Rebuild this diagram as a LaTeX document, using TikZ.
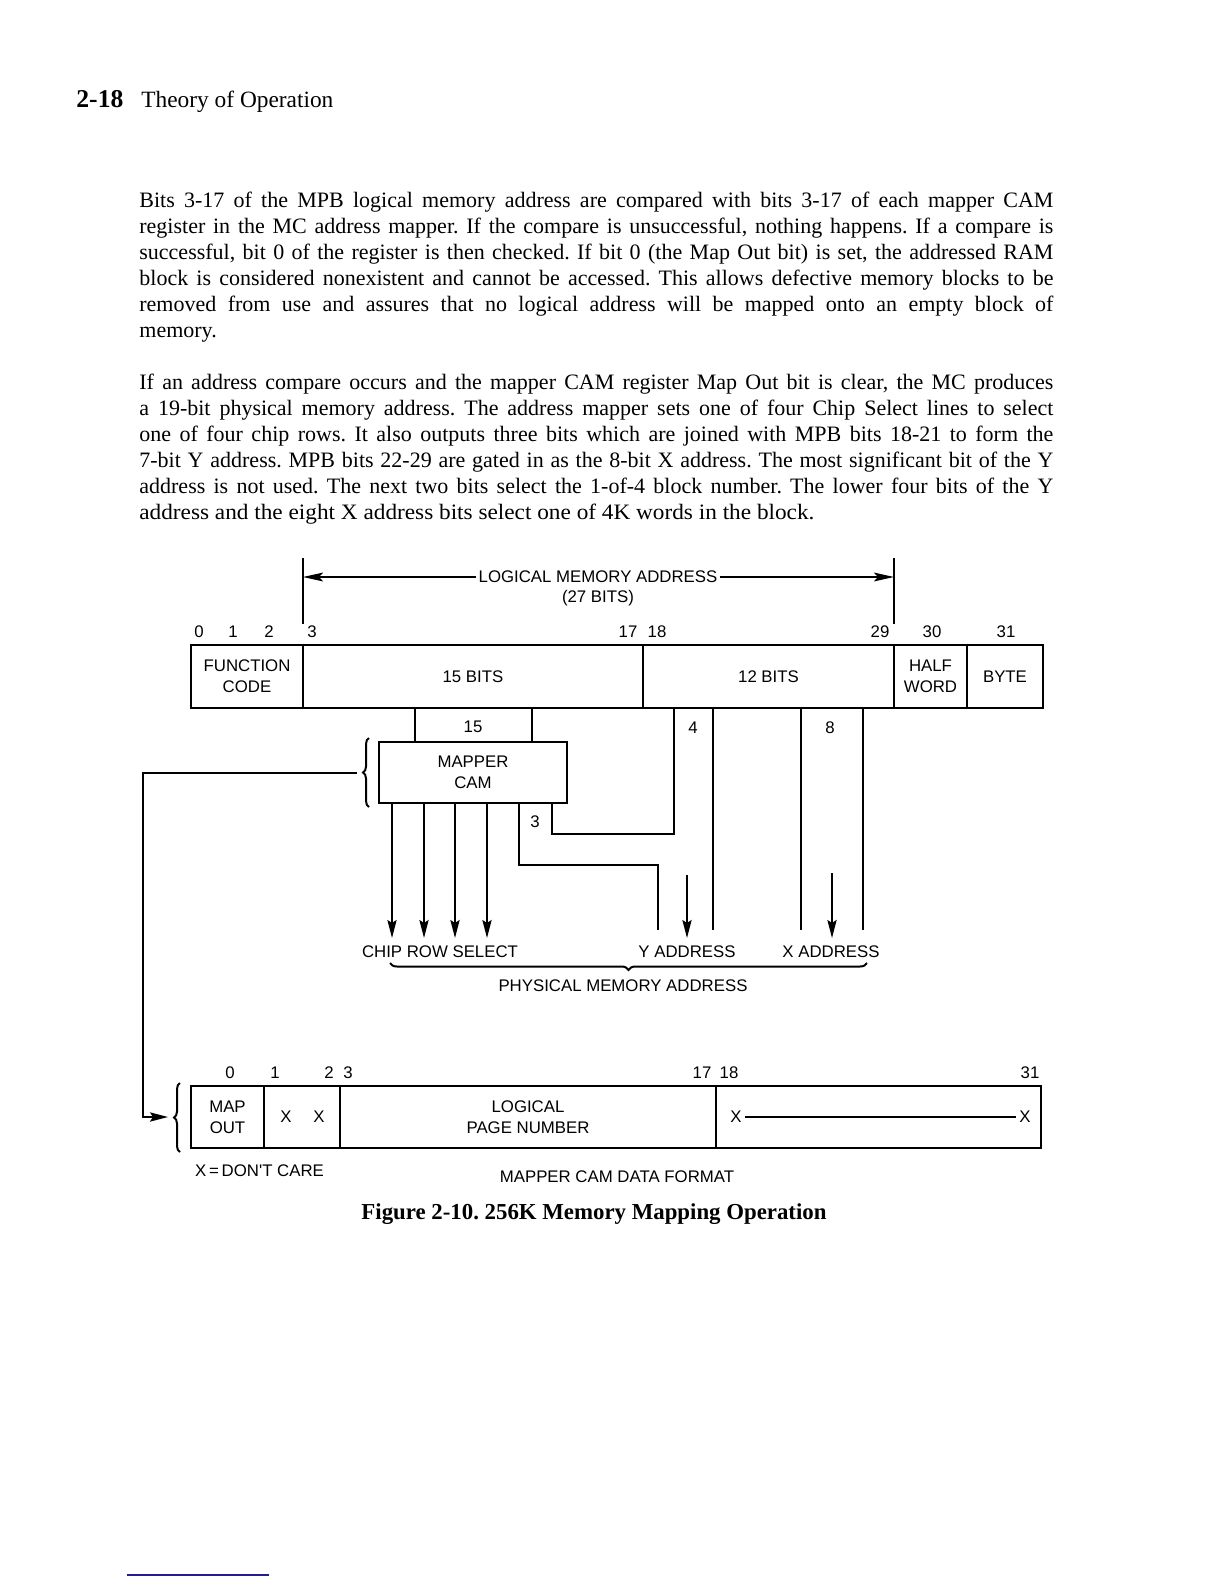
\documentclass[tikz,border=0pt]{standalone}
\usepackage{graphicx}
\usepackage{fontspec}
\setmainfont{Liberation Serif}
\newfontfamily\dgfont{Liberation Sans}
\usetikzlibrary{arrows.meta,decorations.pathreplacing}
\definecolor{rulblue}{RGB}{30,30,150}
\frenchspacing
\newsavebox\jbox
\newcommand\jline[1]{\sbox\jbox{#1}\ifdim\wd\jbox>457bp\relax\resizebox{457bp}{\height}{#1}\else\makebox[457bp][s]{#1}\fi}
\begin{document}
\begin{tikzpicture}[x=0.5bp,y=-0.5bp,
  dtext/.style={font=\dgfont\fontsize{8.4bp}{10.6bp}\selectfont, inner sep=0pt, align=center},
  cell/.style={dtext, draw, line width=1.1bp},
  wire/.style={line width=1bp},
  arr/.style={wire, -{Stealth[length=9bp,width=4.6bp,inset=1.5bp]}},
  dimarr/.style={wire, -{Stealth[length=10bp,width=4.4bp,inset=2bp]}},
  body/.style={font=\fontsize{11bp}{13bp}\selectfont, inner sep=0pt, anchor=base west},
  lbrace/.style={wire, decorate, decoration={brace, amplitude=3bp}},
]
\useasboundingbox (0,0) rectangle (1224,1584);

% ---------- header ----------
\node[body] (hnum) at (76,107) {\resizebox{23.5bp}{!}{\bfseries 2-18}};
\node[body] (htitle) at (141,107) {\resizebox{96bp}{!}{Theory of Operation}};

% ---------- body text ----------
\node[body] (p1a) at (139,207) {\jline{Bits 3-17 of the MPB logical memory address are compared with bits 3-17 of each mapper CAM}};
\node[body] (p1b) at (139,233) {\jline{register in the MC address mapper. If the compare is unsuccessful, nothing happens. If a compare is}};
\node[body] (p1c) at (139,259) {\jline{successful, bit 0 of the register is then checked. If bit 0 (the Map Out bit) is set, the addressed RAM}};
\node[body] (p1d) at (139,285) {\jline{block is considered nonexistent and cannot be accessed. This allows defective memory blocks to be}};
\node[body] (p1e) at (139,311) {\jline{removed from use and assures that no logical address will be mapped onto an empty block of}};
\node[body] (p1f) at (139,337) {memory.};

\node[body] (p2a) at (139,389.7) {\jline{If an address compare occurs and the mapper CAM register Map Out bit is clear, the MC produces}};
\node[body] (p2b) at (139,415.6) {\jline{a 19-bit physical memory address. The address mapper sets one of four Chip Select lines to select}};
\node[body] (p2c) at (139,441.5) {\jline{one of four chip rows. It also outputs three bits which are joined with MPB bits 18-21 to form the}};
\node[body] (p2d) at (139,467.4) {\jline{7-bit Y address. MPB bits 22-29 are gated in as the 8-bit X address. The most significant bit of the Y}};
\node[body] (p2e) at (139,493.3) {\jline{address is not used. The next two bits select the 1-of-4 block number. The lower four bits of the Y}};
\node[body] (p2f) at (139,519.2) {\resizebox{337.5bp}{\height}{address and the eight X address bits select one of 4K words in the block.}};

% ---------- top register ----------
\node[cell, minimum width=56bp,    minimum height=31.5bp] (fc)   at (247,676.5)   {FUNCTION\\CODE};
\node[cell, minimum width=170bp,   minimum height=31.5bp] (b15)  at (473,676.5)   {15 BITS};
\node[cell, minimum width=125.5bp, minimum height=31.5bp] (b12)  at (768.5,676.5) {12 BITS};
\node[cell, minimum width=36.5bp,  minimum height=31.5bp] (hw)   at (930.5,676.5) {HALF\\WORD};
\node[cell, minimum width=38bp,    minimum height=31.5bp] (byte) at (1005,676.5)  {BYTE};

% bit numbers
\node[dtext] (t0)  at (199,632) {0};
\node[dtext] (t1)  at (233,632) {1};
\node[dtext] (t2)  at (269,632) {2};
\node[dtext] (t3)  at (312,632) {3};
\node[dtext] (t17) at (628,632) {17};
\node[dtext] (t18) at (657,632) {18};
\node[dtext] (t29) at (880,632) {29};
\node[dtext] (t30) at (932,632) {30};
\node[dtext] (t31) at (1006,632) {31};

% logical memory address dimension
\coordinate (tickLt) at (303,558);
\coordinate (tickLb) at (303,624);
\coordinate (tickRt) at (894,558);
\coordinate (tickRb) at (894,624);
\draw[wire] (tickLt) -- (tickLb);
\draw[wire] (tickRt) -- (tickRb);
\node[dtext, inner sep=1.2bp] (lma) at (598,577) {LOGICAL MEMORY ADDRESS};
\node[dtext] (bits27) at (598,598) {(27 BITS)};
\coordinate (dimL) at (303,577);
\coordinate (dimR) at (894,577);
\draw[dimarr] (lma.west) -- (dimL);
\draw[dimarr] (lma.east) -- (dimR);

% ---------- mapper CAM ----------
\node[cell, minimum width=94bp, minimum height=30.5bp] (cam) at (473,772.5) {MAPPER\\CAM};
\coordinate (xa) at (415,0);
\coordinate (xb) at (532,0);
\draw[wire] (b15.south -| xa) -- (cam.north -| xa);
\draw[wire] (b15.south -| xb) -- (cam.north -| xb);
\node[dtext] (n15) at (473,727) {15};

% chip row select arrows
\coordinate (tipy) at (0,938);
\coordinate (xc1) at (392,0);
\coordinate (xc2) at (424,0);
\coordinate (xc3) at (455,0);
\coordinate (xc4) at (487,0);
\draw[arr] (cam.south -| xc1) -- (xc1 |- tipy);
\draw[arr] (cam.south -| xc2) -- (xc2 |- tipy);
\draw[arr] (cam.south -| xc3) -- (xc3 |- tipy);
\draw[arr] (cam.south -| xc4) -- (xc4 |- tipy);

% 3 bits from mapper to Y address
\coordinate (xd) at (519,0);
\coordinate (yAcorner) at (658,865);
\coordinate (yAend) at (658,930);
\draw[wire] (cam.south -| xd) |- (yAcorner) -- (yAend);
\node[dtext] (n3) at (535,822) {3};

% compare loop from register into mapper
\coordinate (xe) at (552,0);
\coordinate (loopc) at (674,834);
\draw[wire] (cam.south -| xe) |- (loopc) -- (b12.south -| loopc);

% Y address bits from register
\coordinate (yB) at (713,930);
\draw[wire] (b12.south -| yB) -- (yB);
\node[dtext] (n4) at (693,728) {4};
\coordinate (yArrS) at (687,875);
\coordinate (yArrE) at (687,938);
\draw[arr] (yArrS) -- (yArrE);

% X address bits
\coordinate (xL) at (801,930);
\coordinate (xR) at (863,930);
\draw[wire] (b12.south -| xL) -- (xL);
\draw[wire] (b12.south -| xR) -- (xR);
\node[dtext] (n8) at (830,728) {8};
\coordinate (xArrS) at (832,873);
\coordinate (xArrE) at (832,938);
\draw[arr] (xArrS) -- (xArrE);

% output labels
\node[dtext] (crs)  at (440,952) {CHIP ROW SELECT};
\node[dtext] (yadr) at (687,952) {Y ADDRESS};
\node[dtext] (xadr) at (831,952) {X ADDRESS};
\coordinate (brL) at (390,963);
\coordinate (brR) at (867,963);
\draw[wire, decorate, decoration={brace, amplitude=3.5bp, mirror}] (brL) -- (brR);
\node[dtext] (pma) at (623,986) {PHYSICAL MEMORY ADDRESS};

% ---------- feedback from CAM to data format ----------
\coordinate (camBrB) at (369,807);
\coordinate (camBrT) at (369,738);
\draw[lbrace] (camBrB) -- (camBrT);
\coordinate (fbStart) at (357,772.5);
\coordinate (fbCorner) at (143,1117);
\coordinate (fbEnd) at (168,1117);
\draw[arr] (fbStart) -| (fbCorner) -- (fbEnd);

% ---------- bottom register ----------
\node[cell, minimum width=36.5bp, minimum height=31bp] (mo)   at (227.5,1117) {MAP\\OUT};
\node[cell, minimum width=38bp,   minimum height=31bp] (xx)   at (302,1117)   {};
\node[cell, minimum width=188bp,  minimum height=31bp] (lpn)  at (528,1117)   {LOGICAL\\PAGE NUMBER};
\node[cell, minimum width=162.5bp,minimum height=31bp] (rest) at (878.5,1117) {};
\coordinate (dfBrB) at (180,1152);
\coordinate (dfBrT) at (180,1083);
\draw[lbrace] (dfBrB) -- (dfBrT);

\node[dtext] (xa1) at (286,1117) {X};
\node[dtext] (xa2) at (319,1117) {X};
\node[dtext, inner sep=1.5bp] (xb1) at (736,1117) {X};
\node[dtext, inner sep=1.5bp] (xb2) at (1025,1117) {X};
\draw[wire] (xb1.east) -- (xb2.west);

\node[dtext] (u0)  at (230,1073) {0};
\node[dtext] (u1)  at (275,1073) {1};
\node[dtext] (u2)  at (329,1073) {2};
\node[dtext] (u3)  at (348,1073) {3};
\node[dtext] (u17) at (702,1073) {17};
\node[dtext] (u18) at (729,1073) {18};
\node[dtext] (u31) at (1030,1073) {31};

\node[dtext] (dcare) at (259.5,1171) {X\,=\,DON'T CARE};
\node[dtext] (mcdf) at (617,1177) {MAPPER CAM DATA FORMAT};

% ---------- caption ----------
\node[inner sep=0pt, anchor=base] (cap) at (594,1219) {\resizebox{232.5bp}{!}{\bfseries Figure 2-10. 256K Memory Mapping Operation}};

% ---------- footer rule ----------
\coordinate (ruleL) at (127,1575);
\coordinate (ruleR) at (269,1575);
\draw[rulblue, line width=1bp] (ruleL) -- (ruleR);
\end{tikzpicture}
\end{document}
